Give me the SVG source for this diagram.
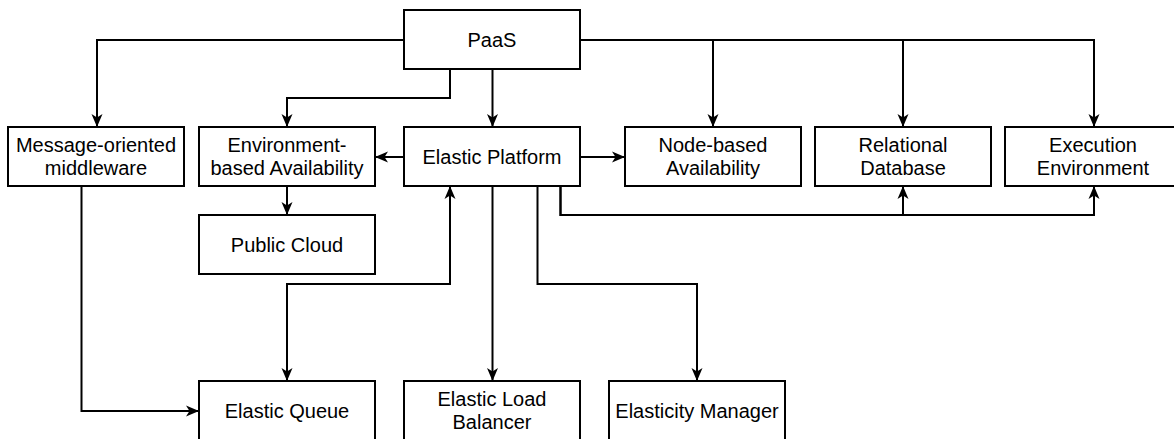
<svg xmlns="http://www.w3.org/2000/svg" width="1174" height="439" viewBox="0 0 1174 439">
  <style>
    .box { fill: #ffffff; stroke: #000000; stroke-width: 2; }
    .lbl { font-family: "Liberation Sans", Arial, sans-serif; font-size: 20px; fill: #000000; text-anchor: middle; }
    .edge { fill: none; stroke: #000000; stroke-width: 2; }
    .arr { marker-end: url(#ah); }
    .arr2 { marker-start: url(#ahs); marker-end: url(#ah); }
  </style>
  <defs>
    <marker id="ah" markerUnits="userSpaceOnUse" markerWidth="14" markerHeight="12" viewBox="0 0 14 12" refX="13" refY="6" orient="auto">
      <path d="M0,0.5 L13,6 L0,11.5 L3.5,6 Z" fill="#000000"/>
    </marker>
    <marker id="ahs" markerUnits="userSpaceOnUse" markerWidth="14" markerHeight="12" viewBox="0 0 14 12" refX="13" refY="6" orient="auto-start-reverse">
      <path d="M0,0.5 L13,6 L0,11.5 L3.5,6 Z" fill="#000000"/>
    </marker>
  </defs>
  <rect width="1174" height="439" fill="#ffffff"/>

  <g id="connectors">
    <path class="edge arr" d="M404,40 H97 V127"/>
    <path class="edge arr" d="M450,69 V98 H287 V127"/>
    <path class="edge arr" d="M492.5,69 V127"/>
    <path class="edge arr" d="M580,40 H713 V127"/>
    <path class="edge arr" d="M580,40 H903 V127"/>
    <path class="edge arr" d="M580,40 H1094 V127"/>
    <path class="edge arr" d="M404,157 H375"/>
    <path class="edge arr" d="M580,157 H625"/>
    <path class="edge arr" d="M287,186 V215"/>
    <path class="edge arr" d="M81.5,186 V411 H199"/>
    <path class="edge arr2" d="M287,381 V284 H450 V186"/>
    <path class="edge arr" d="M492.5,186 V381"/>
    <path class="edge arr" d="M537.5,186 V284 H697 V381"/>
    <path class="edge arr" d="M560.5,186 V215 H903 V186"/>
    <path class="edge arr" d="M560.5,186 V215 H1094 V186"/>
  </g>

  <g id="paas">
    <rect class="box" x="404" y="10" width="176" height="59"/>
    <text class="lbl" x="492" y="46.5">PaaS</text>
  </g>
  <g id="mom">
    <rect class="box" x="8" y="127" width="176" height="59"/>
    <text class="lbl" x="96" y="151.7">Message-oriented</text>
    <text class="lbl" x="96" y="175">middleware</text>
  </g>
  <g id="env-availability">
    <rect class="box" x="199" y="127" width="176" height="59"/>
    <text class="lbl" x="287" y="151.7">Environment-</text>
    <text class="lbl" x="287" y="175">based Availability</text>
  </g>
  <g id="elastic-platform">
    <rect class="box" x="404" y="127" width="176" height="59"/>
    <text class="lbl" x="492" y="163.7">Elastic Platform</text>
  </g>
  <g id="node-availability">
    <rect class="box" x="625" y="127" width="176" height="59"/>
    <text class="lbl" x="713" y="151.7">Node-based</text>
    <text class="lbl" x="713" y="175">Availability</text>
  </g>
  <g id="relational-database">
    <rect class="box" x="815" y="127" width="176" height="59"/>
    <text class="lbl" x="903" y="151.7">Relational</text>
    <text class="lbl" x="903" y="175">Database</text>
  </g>
  <g id="execution-environment">
    <rect class="box" x="1005" y="127" width="176" height="59"/>
    <text class="lbl" x="1093" y="151.7">Execution</text>
    <text class="lbl" x="1093" y="175">Environment</text>
  </g>
  <g id="public-cloud">
    <rect class="box" x="199" y="215" width="176" height="59"/>
    <text class="lbl" x="287" y="251.7">Public Cloud</text>
  </g>
  <g id="elastic-queue">
    <rect class="box" x="199" y="381" width="176" height="59"/>
    <text class="lbl" x="287" y="417.7">Elastic Queue</text>
  </g>
  <g id="elastic-load-balancer">
    <rect class="box" x="404" y="381" width="176" height="59"/>
    <text class="lbl" x="492" y="405.7">Elastic Load</text>
    <text class="lbl" x="492" y="429">Balancer</text>
  </g>
  <g id="elasticity-manager">
    <rect class="box" x="609" y="381" width="176" height="59"/>
    <text class="lbl" x="697" y="417.7">Elasticity Manager</text>
  </g>
</svg>
